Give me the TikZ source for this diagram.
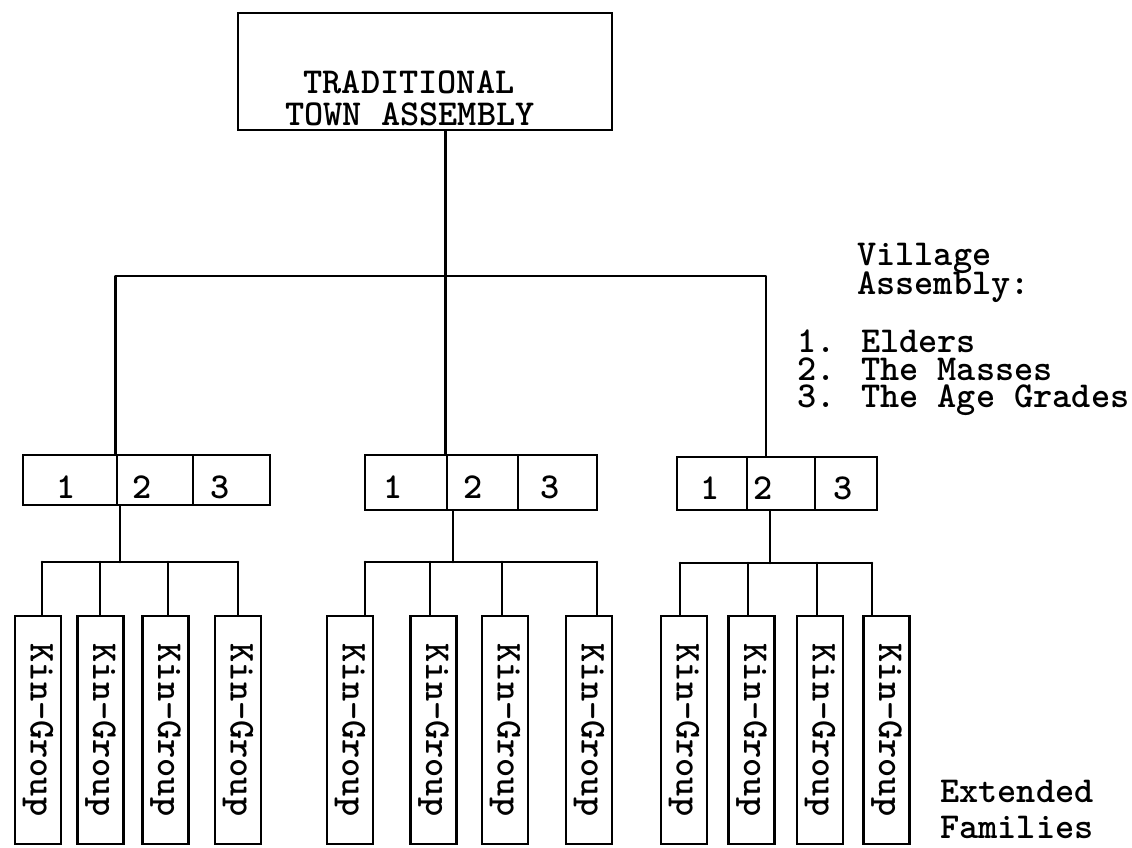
\documentclass[tikz,border=0pt]{standalone}
\usepackage{fontspec}
\usepackage{graphicx}
\begin{document}
\begin{tikzpicture}[x=1pt,y=-1pt,
  tw/.style={font=\ttfamily\bfseries\fontsize{36.5}{36}\selectfont, inner sep=0pt},
  frame/.style={draw, line width=2.8pt, inner sep=0pt},
  kin/.style={frame, minimum width=46pt, minimum height=228pt, font=\ttfamily\bfseries\fontsize{36.5}{36}\selectfont},
  link/.style={line width=2.6pt, line join=round, line cap=round}]
\useasboundingbox (0,0) rectangle (1132,848);
% top box
\node[frame, minimum width=374pt, minimum height=117pt] (town) at (425,71.5) {};
\node[tw, anchor=base] (t1) at (409,94) {TRADITIONAL};
\node[tw, anchor=base] (t2) at (410,125) {TOWN ASSEMBLY};
% village assembly boxes
\node[frame, minimum width=94pt, minimum height=50pt] (c11) at (70,480) {};
\node[frame, minimum width=76pt, minimum height=50pt] (c12) at (155,480) {};
\node[frame, minimum width=77pt, minimum height=50pt] (c13) at (231.5,480) {};
\node[frame, minimum width=82pt, minimum height=55pt] (c21) at (406,482.5) {};
\node[frame, minimum width=71pt, minimum height=55pt] (c22) at (482.5,482.5) {};
\node[frame, minimum width=79pt, minimum height=55pt] (c23) at (557.5,482.5) {};
\node[frame, minimum width=70pt, minimum height=53pt] (c31) at (712,483.5) {};
\node[frame, minimum width=68pt, minimum height=53pt] (c32) at (781,483.5) {};
\node[frame, minimum width=62pt, minimum height=53pt] (c33) at (846,483.5) {};
\node[tw] (n11) at (66,487) {1};
\node[tw] (n12) at (142,487) {2};
\node[tw] (n13) at (220,487) {3};
\node[tw] (n21) at (393,487) {1};
\node[tw] (n22) at (473,487) {2};
\node[tw] (n23) at (550,487) {3};
\node[tw] (n31) at (710,488) {1};
\node[tw] (n32) at (763,488) {2};
\node[tw] (n33) at (843,488) {3};
% kin groups
\foreach \nm/\xx in {k11/38,k12/100.5,k13/165.5,k14/238,k21/350,k22/433.5,k23/505,k24/589,k31/684,k32/751.5,k33/820,k34/886.5}
  \node[kin] (\nm) at (\xx,730) {\rotatebox[origin=c]{-90}{Kin-Group}};
% labels
\node[tw, anchor=base west] (v1) at (857,265) {Village};
\node[tw, anchor=base west] (v2) at (857,294) {Assembly:};
\node[tw, anchor=base west] (v3) at (797,352) {1. Elders};
\node[tw, anchor=base west] (v4) at (797,380) {2. The Masses};
\node[tw, anchor=base west] (v5) at (797,407) {3. The Age Grades};
\node[tw, anchor=base west] (e1) at (940,802) {Extended};
\node[tw, anchor=base west] (e2) at (940,838) {Families};
% connectors top level
\coordinate (barR) at (766,276);
\draw[link] (town.south -| c22.north west) -- (c22.north west);
\draw[link] (c12.north west) |- (barR) -- (barR |- c32.north);
% group junctions
\coordinate (m1) at (120,562);
\coordinate (m2) at (453,562);
\coordinate (m3) at (770,563);
\foreach \g/\a/\d in {1/42/238, 2/365/597, 3/680/872}{
  \draw[link] (m\g |- c\g2.south) -- (m\g);
  \draw[link] (\a, 0 |- m\g) -- (\d, 0 |- m\g);
}
\foreach \nm/\xx/\yy in {k11/42/562,k12/100/562,k13/168/562,k14/238/562,k21/365/562,k22/430/562,k23/502/562,k24/597/562,k31/680/563,k32/748/563,k33/817/563,k34/872/563}{
  \coordinate (d\nm) at (\xx,\yy);
  \draw[link] (d\nm) -- (d\nm |- \nm.north);
}
\end{tikzpicture}
\end{document}
